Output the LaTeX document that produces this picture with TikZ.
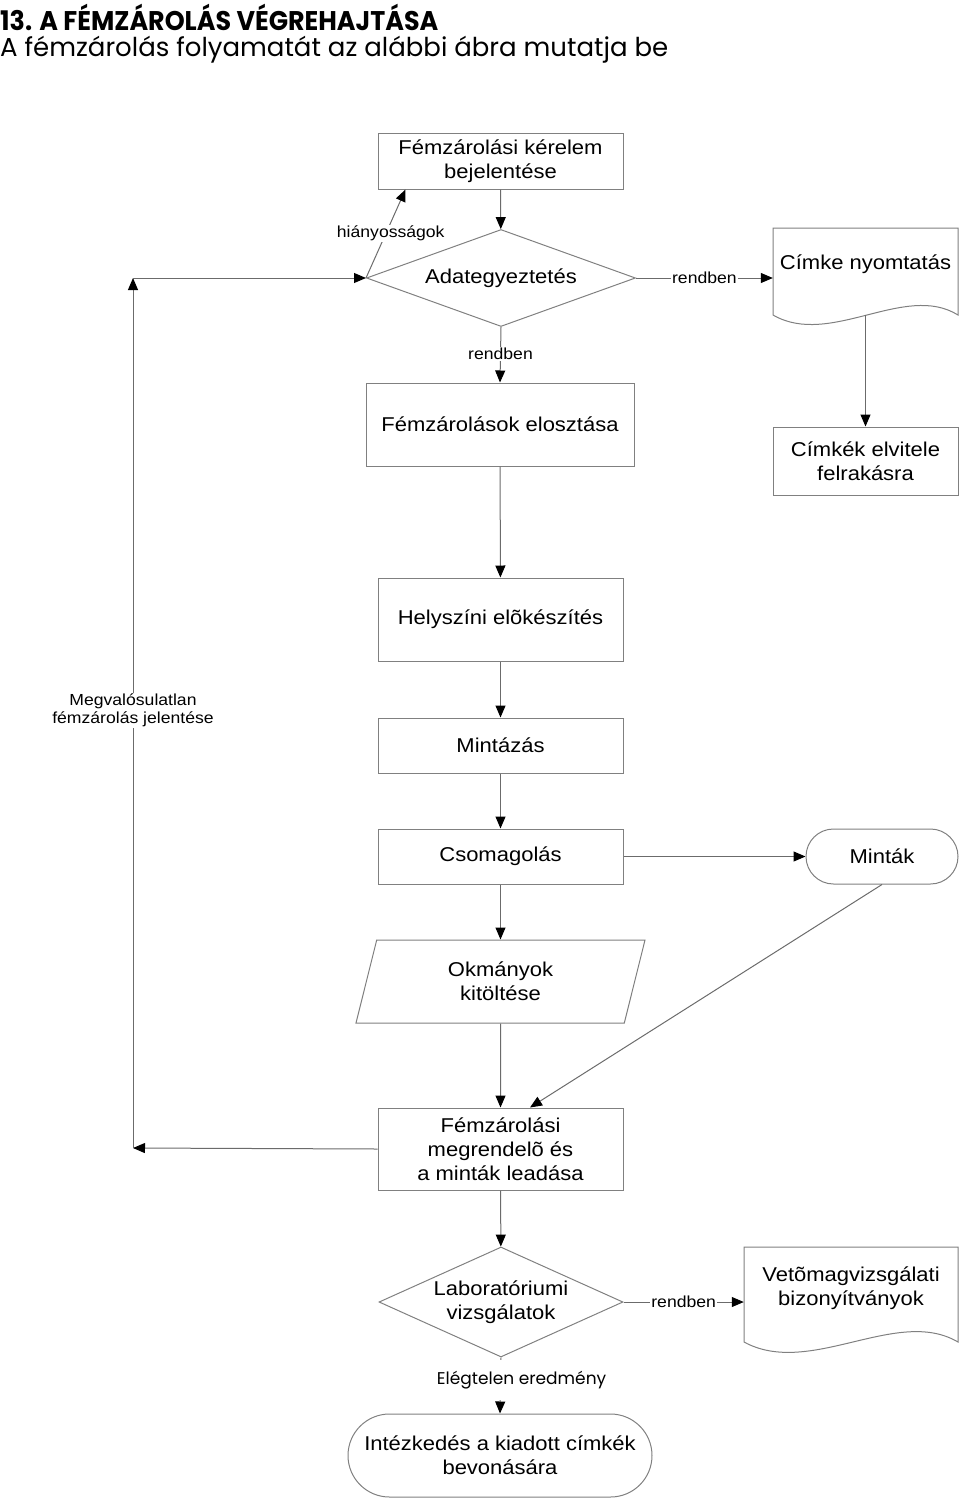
\documentclass[tikz,border=0pt]{standalone}
\usepackage{fontspec}
\setmainfont{Liberation Sans}[FakeStretch=1.1]
\newfontfamily\gothic{Poppins}
\newfontfamily\gothictitle{Poppins}[FakeStretch=0.94]
\usetikzlibrary{arrows.meta,shapes.geometric}
\definecolor{linegray}{gray}{0.42}
\definecolor{boxgray}{gray}{0.5}

\begin{document}
\begin{tikzpicture}[
        x=1pt, y=-1pt,
        box/.style={rectangle, draw=boxgray, line width=1pt, align=center, inner sep=2pt, font=\fontsize{20}{24}\selectfont},
        check/.style={diamond, draw=boxgray, line width=1pt, align=center, inner sep=0pt, font=\fontsize{20}{24}\selectfont},
        para/.style={trapezium, trapezium left angle=62, trapezium right angle=118, trapezium stretches body, draw=boxgray, line width=1pt, align=center, inner sep=0pt, font=\fontsize{20}{24}\selectfont},
        doc/.style={rectangle, align=center, inner sep=0pt, font=\fontsize{20}{24}\selectfont},
        outline/.style={draw=boxgray, line width=1pt},
        arr/.style={draw=linegray, line width=1pt, -{Triangle[length=12pt,width=10pt,color=black]}},
        edge_label/.style={fill=white, inner sep=1pt, font=\fontsize{16}{18}\selectfont}
    ]
        \useasboundingbox (0,0) rectangle (960,1502);

        % Title
        \node[anchor=north west, inner sep=0pt, font=\gothictitle\bfseries\fontsize{27}{30}\selectfont] (title) at (0,4) {13. A FÉMZÁROLÁS VÉGREHAJTÁSA};
        \node[anchor=north west, inner sep=0pt, font=\gothic\fontsize{26}{30}\selectfont] (subtitle) at (0,36) {A fémzárolás folyamatát az alábbi ábra mutatja be};

        % Upper part
        \node[box, minimum width=245, minimum height=56] (kerelem) at (500.5,161) {Fémzárolási kérelem\\bejelentése};
        \node[check, aspect=2.77, minimum width=269, minimum height=97] (egyeztetes) at (501,278) {Adategyeztetés};
        \node[doc, minimum width=185] (cimke) at (865.5,264) {Címke nyomtatás};
        \draw[outline] ([shift={(-92.5,51)}]cimke.center) -- ([shift={(-92.5,-36)}]cimke.center) -- ([shift={(92.5,-36)}]cimke.center) -- ([shift={(92.5,51)}]cimke.center)
            .. controls +(-53,-33) and +(57,33) .. ([shift={(-92.5,51)}]cimke.center) -- cycle;
        \coordinate (cimke_out) at (865.5,315);
        \node[box, minimum width=268, minimum height=83] (elosztas) at (500,424.5) {Fémzárolások elosztása};
        \node[box, minimum width=185, minimum height=68] (elvitel) at (865.5,461) {Címkék elvitele\\felrakásra};

        % Middle part
        \node[box, minimum width=245, minimum height=83] (helyszin) at (500.5,619.5) {Helyszíni elõkészítés};
        \node[box, minimum width=245, minimum height=55] (mintazas) at (500.5,745.5) {Mintázás};
        \node[box, minimum width=245, minimum height=55] (csomag) at (500.5,856.5) {Csomagolás};
        \node[box, rounded corners=27.5pt, minimum width=152, minimum height=55] (mintak) at (882,856.5) {Minták};
        \node[para, minimum width=289, minimum height=83] (okmany) at (500.5,981.5) {Okmányok\\kitöltése};
        \node[box, minimum width=245, minimum height=82] (leadas) at (500.5,1149) {Fémzárolási\\megrendelõ és\\a minták leadása};

        % Lower part
        \node[check, aspect=2.2, minimum width=244, minimum height=110] (labor) at (501,1302) {Laboratóriumi\\vizsgálatok};
        \node[doc, minimum width=214] (bizonyitvany) at (851,1288) {Vetõmagvizsgálati\\bizonyítványok};
        \draw[outline] ([shift={(-107,54)}]bizonyitvany.center) -- ([shift={(-107,-41)}]bizonyitvany.center) -- ([shift={(107,-41)}]bizonyitvany.center) -- ([shift={(107,54)}]bizonyitvany.center)
            .. controls +(-61,-36) and +(66,36) .. ([shift={(-107,54)}]bizonyitvany.center) -- cycle;
        \node[box, rounded corners=41.5pt, minimum width=304, minimum height=83] (intezkedes) at (500,1455.5) {Intézkedés a kiadott címkék\\bevonására};

        % Return path on the left
        \coordinate (vissza_top) at (133,278);
        \coordinate (vissza_bot) at (133,1148);

        % Connectors
        \draw[arr] (kerelem) -- (egyeztetes);
        \draw[arr] (egyeztetes.west) -- node[edge_label, pos=0.5, xshift=5pt] {hiányosságok} ([xshift=28pt]kerelem.south west);
        \draw[arr] (egyeztetes.east) -- node[edge_label] {rendben} (egyeztetes.east -| cimke.west);
        \draw[arr] (egyeztetes.south) -- node[edge_label, pos=0.48] {rendben} (elosztas.north);
        \draw[arr] (cimke_out) -- (elvitel.north);
        \draw[arr] (elosztas) -- (helyszin);
        \draw[arr] (helyszin) -- (mintazas);
        \draw[arr] (mintazas) -- (csomag);
        \draw[arr] (csomag) -- (mintak);
        \draw[arr] (csomag) -- (okmany);
        \draw[arr] (okmany.south) -- (leadas.north);
        \draw[arr] (mintak.south) -- ([xshift=29.5pt]leadas.north);
        \draw[arr] (leadas.west) -- (vissza_bot);
        \draw[arr] (vissza_bot) -- node[edge_label, align=center, pos=0.503] {Megvalósulatlan\\fémzárolás jelentése} (vissza_top);
        \draw[arr] (vissza_top) -- (egyeztetes.west);
        \draw[arr] (leadas) -- (labor);
        \draw[arr] (labor.east) -- node[edge_label] {rendben} (labor.east -| bizonyitvany.west);
        \draw[arr] (labor.south) -- node[edge_label, pos=0.4, xshift=21pt, minimum height=40, font=\gothic\fontsize{17}{20}\selectfont] {Elégtelen eredmény} (intezkedes.north);

\end{tikzpicture}
\end{document}
